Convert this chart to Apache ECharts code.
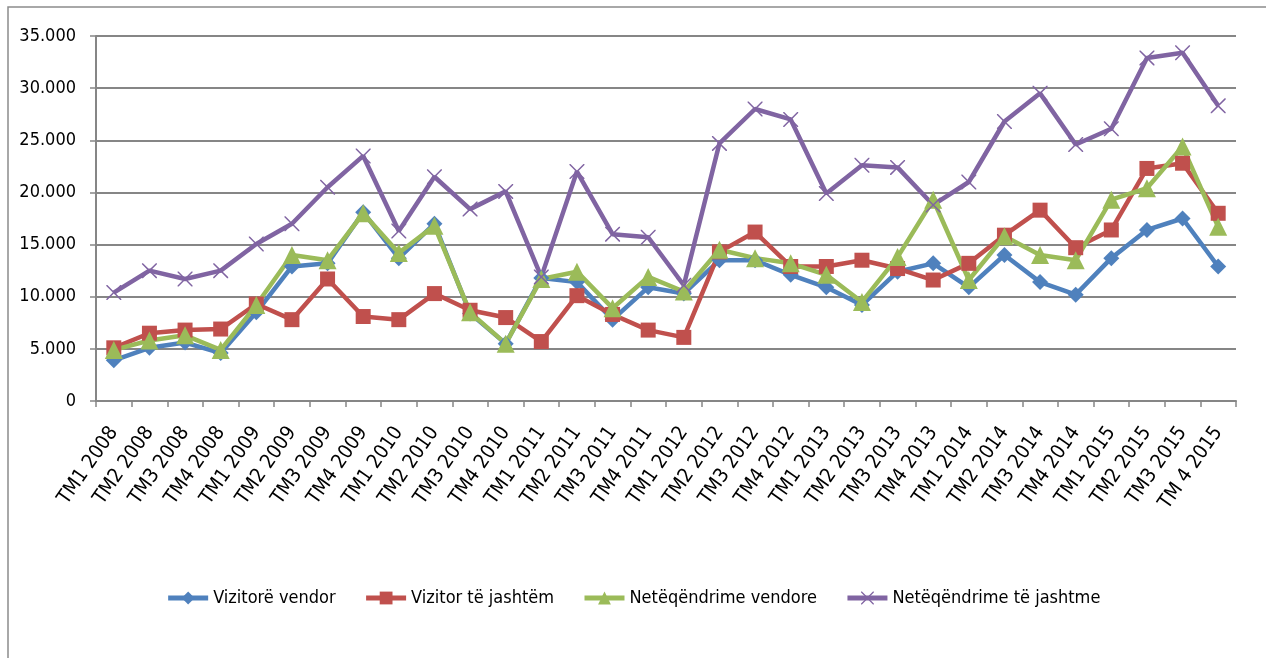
<!DOCTYPE html>
<html>
<head>
<meta charset="utf-8">
<script src="https://cdn.jsdelivr.net/npm/echarts@6/dist/echarts.min.js"></script>
<style>
  html, body { margin: 0; padding: 0; background: #fff; }
  #chart { width: 1266px; height: 658px; }
</style>
</head>
<body>
<div id="chart"></div>
<script>
const categories = [
  'TM1 2008', 'TM2 2008', 'TM3 2008', 'TM4 2008',
  'TM1 2009', 'TM2 2009', 'TM3 2009', 'TM4 2009',
  'TM1 2010', 'TM2 2010', 'TM3 2010', 'TM4 2010',
  'TM1 2011', 'TM2 2011', 'TM3 2011', 'TM4 2011',
  'TM1 2012', 'TM2 2012', 'TM3 2012', 'TM4 2012',
  'TM1 2013', 'TM2 2013', 'TM3 2013', 'TM4 2013',
  'TM1 2014', 'TM2 2014', 'TM3 2014', 'TM4 2014',
  'TM1 2015', 'TM2 2015', 'TM3 2015', 'TM 4 2015'
]

const vizitoreVendor = [
  3900, 5100, 5600, 4600, 8500, 12900, 13200, 18100,
  13700, 17000, 8400, 5500, 11800, 11400, 7800, 10900,
  10300, 13500, 13500, 12100, 10900, 9200, 12400, 13200,
  10900, 14000, 11400, 10200, 13700, 16400, 17500, 12900
]
const vizitorJashtem = [
  5100, 6500, 6800, 6900, 9300, 7800, 11700, 8100,
  7800, 10300, 8700, 8000, 5700, 10100, 8300, 6800,
  6100, 14300, 16200, 12900, 12900, 13500, 12700, 11600,
  13200, 15900, 18300, 14700, 16400, 22300, 22800, 18000
]
const neteqendrimeVendore = [
  4900, 5800, 6300, 4900, 9200, 14000, 13500, 18000,
  14200, 16800, 8500, 5500, 11700, 12400, 8900, 11900,
  10500, 14500, 13700, 13200, 12100, 9500, 13800, 19300,
  11600, 15800, 14000, 13500, 19300, 20400, 24400, 16700
]
const neteqendrimeJashtme = [
  10400, 12500, 11700, 12500, 15050, 17000, 20500, 23500,
  16300, 21500, 18400, 20100, 11900, 22000, 16000, 15700,
  11100, 24700, 28000, 27000, 19900, 22600, 22400, 18800,
  21000, 26800, 29500, 24600, 26100, 32900, 33400, 28300
]

const crossSymbol = 'path://M0,0 L1.4,0 L10,8.6 L18.6,0 L20,0 L20,1.4 L11.4,10 L20,18.6 L20,20 L18.6,20 L10,11.4 L1.4,20 L0,20 L0,18.6 L8.6,10 L0,1.4 Z'

const font = '"Liberation Sans Narrow", "DejaVu Sans Condensed", Lato, sans-serif'

function fmt(v) {
  if (v === 0) return '0'
  const s = String(v)
  return s.slice(0, s.length - 3) + '.' + s.slice(s.length - 3)
}

function lineSeries(name, data, color, symbol, size) {
  return {
    name: name,
    type: 'line',
    data: data,
    symbol: symbol,
    symbolSize: size,
    lineStyle: { color: color, width: 4.5 },
    itemStyle: { color: color },
    emphasis: { disabled: true }
  }
}

const chart = echarts.init(document.getElementById('chart'))

chart.setOption({
  animation: false,
  backgroundColor: '#fff',
  graphic: [{
    type: 'rect',
    shape: { x: 8, y: 7, width: 1280, height: 680 },
    style: { fill: 'none', stroke: '#8c8c8c', lineWidth: 1.5 }
  }],
  grid: { left: 96, right: 30, top: 36, bottom: 257 },
  legend: {
    bottom: 46,
    left: 'center',
    itemWidth: 40,
    itemHeight: 16,
    itemGap: 28,
    lineStyle: { width: 5 },
    textStyle: { fontFamily: font, fontSize: 18, color: '#000' },
    data: ['Vizitorë vendor', 'Vizitor të jashtëm', 'Netëqëndrime vendore', 'Netëqëndrime të jashtme']
  },
  xAxis: {
    type: 'category',
    data: categories,
    boundaryGap: true,
    axisLine: { lineStyle: { color: '#868686', width: 2 } },
    axisTick: { show: true, length: 6, lineStyle: { color: '#868686', width: 1.5 } },
    axisLabel: {
      interval: 0,
      rotate: 55,
      margin: 28,
      align: 'right',
      verticalAlign: 'middle',
      fontFamily: font,
      fontSize: 20,
      color: '#000'
    }
  },
  yAxis: {
    type: 'value',
    min: 0,
    max: 35000,
    interval: 5000,
    axisLine: { show: true, lineStyle: { color: '#868686', width: 2 } },
    axisTick: { show: true, length: 6, lineStyle: { color: '#868686', width: 1.5 } },
    splitLine: { lineStyle: { color: '#868686', width: 2 } },
    axisLabel: {
      margin: 20,
      fontFamily: font,
      fontSize: 18,
      color: '#000',
      formatter: fmt
    }
  },
  series: [
    lineSeries('Vizitorë vendor', vizitoreVendor, '#4F81BD', 'diamond', 16),
    lineSeries('Vizitor të jashtëm', vizitorJashtem, '#C0504D', 'rect', 15),
    lineSeries('Netëqëndrime vendore', neteqendrimeVendore, '#9BBB59', 'triangle', 18),
    lineSeries('Netëqëndrime të jashtme', neteqendrimeJashtme, '#8064A2', crossSymbol, 15)
  ]
})
</script>
</body>
</html>
